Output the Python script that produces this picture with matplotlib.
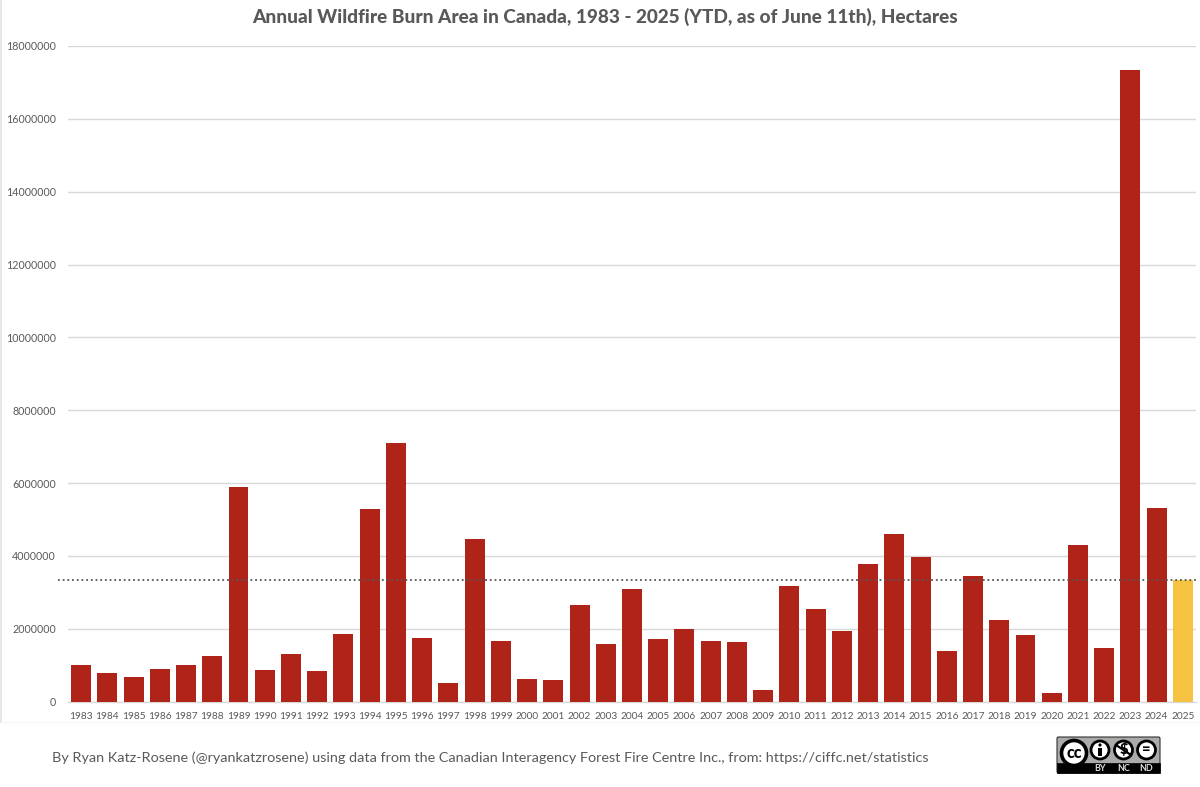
import matplotlib
matplotlib.use("Agg")
import matplotlib.pyplot as plt
from matplotlib.patches import Circle, FancyBboxPatch, Rectangle

plt.rcParams['font.family'] = ['Lato', 'DejaVu Sans']

W, H = 1200, 787

years = list(range(1983, 2026))
hectares = [1000000, 770000, 670000, 900000, 1000000, 1250000, 5900000, 860000, 1300000, 830000,
            1850000, 5280000, 7100000, 1750000, 500000, 4450000, 1670000, 630000, 600000, 2650000,
            1570000, 3080000, 1720000, 2000000, 1650000, 1630000, 320000, 3180000, 2550000, 1930000,
            3780000, 4600000, 3960000, 1400000, 3450000, 2250000, 1830000, 230000, 4300000, 1470000,
            17350000, 5320000, 3330000]
yticks = list(range(0, 18000001, 2000000))
ytd_line = 3330000

title = "Annual Wildfire Burn Area in Canada, 1983 - 2025 (YTD, as of June 11th), Hectares"
credit = ("By Ryan Katz-Rosene (@ryankatzrosene) using data from the Canadian Interagency "
          "Forest Fire Centre Inc., from: https://ciffc.net/statistics")

RED = "#b02318"
YELLOW = "#f5c242"
GREY = "#595959"
GRID = "#d9d9d9"

fig = plt.figure(figsize=(W / 100, H / 100), dpi=100, facecolor="white")
# axes box in pixels: x 68-1196, y 46-701.5 from the top
ax = fig.add_axes([68 / W, 1 - 701.5 / H, 1128 / W, 655.5 / H])

colors = [RED] * (len(years) - 1) + [YELLOW]
ax.bar(years, hectares, width=0.76, color=colors, zorder=3)
ax.axhline(ytd_line, xmin=-0.009, color="#555555", lw=1.3, ls=(0, (1, 1.6)), zorder=4, clip_on=False)

ax.set_xlim(years[0] - 0.5, years[-1] + 0.5)
ax.set_ylim(0, 18000000)
ax.set_yticks(yticks)
ax.set_yticklabels([str(v) for v in yticks])
ax.set_xticks(years)
ax.set_xticklabels([str(y) for y in years])
ax.tick_params(axis="y", length=0, pad=8.6, labelsize=7.7, labelcolor=GREY)
ax.tick_params(axis="x", length=0, pad=7.5, labelsize=7.3, labelcolor=GREY)
ax.grid(axis="y", color=GRID, lw=1.0, zorder=0)
ax.set_axisbelow(True)
for side in ["top", "right", "left"]:
    ax.spines[side].set_visible(False)
ax.spines["bottom"].set_color(GRID)
ax.spines["bottom"].set_linewidth(1.0)

fig.text(605 / W, 1 - 17 / H, title, ha="center", va="center", fontsize=13.7,
         fontweight="black", color=GREY)
fig.text(52 / W, 1 - 758 / H, credit, ha="left", va="center", fontsize=10.33, color=GREY)

# overlay in pixel coordinates for the chart frame and the licence badge
ov = fig.add_axes([0, 0, 1, 1], facecolor="none")
ov.set_xlim(0, W)
ov.set_ylim(H, 0)
ov.axis("off")
ov.plot([1, 1], [0, 722], color="#e3e3e3", lw=1.2)
ov.plot([1, 1200], [722, 722], color="#f7f7f7", lw=1)

ov.add_patch(FancyBboxPatch((1057, 737), 103, 36, boxstyle="round,pad=0,rounding_size=1.5",
                            fc="#a9aca8", ec="#333333", lw=0.8))
ov.add_patch(Rectangle((1057, 763), 103, 10, fc="black", ec="black", lw=0.5))
ov.add_patch(Circle((1074, 753), 12.5, fc="white", ec="black", lw=2.6))
ov.text(1074, 753, "cc", ha="center", va="center", fontsize=11.5, fontweight="black", color="black")
for cx, sym in [(1100, ""), (1123.5, "$"), (1146.5, "=")]:
    ov.add_patch(Circle((cx, 750), 9, fc="white", ec="black", lw=2))
    if sym:
        ov.text(cx, 750, sym, ha="center", va="center", fontsize=10.5, fontweight="black", color="black")
# the BY person icon
ov.add_patch(Circle((1100, 745), 1.6, fc="black", ec="none"))
ov.add_patch(Rectangle((1097.7, 747.5), 4.6, 8, fc="black", ec="none"))
ov.plot([1116, 1131], [745, 755], color="black", lw=1.6)
for cx, lab in [(1100, "BY"), (1123.5, "NC"), (1146.5, "ND")]:
    ov.text(cx, 768.3, lab, ha="center", va="center", fontsize=6.4, fontweight="bold", color="#dddddd")

fig.savefig("out.png", dpi=100)
